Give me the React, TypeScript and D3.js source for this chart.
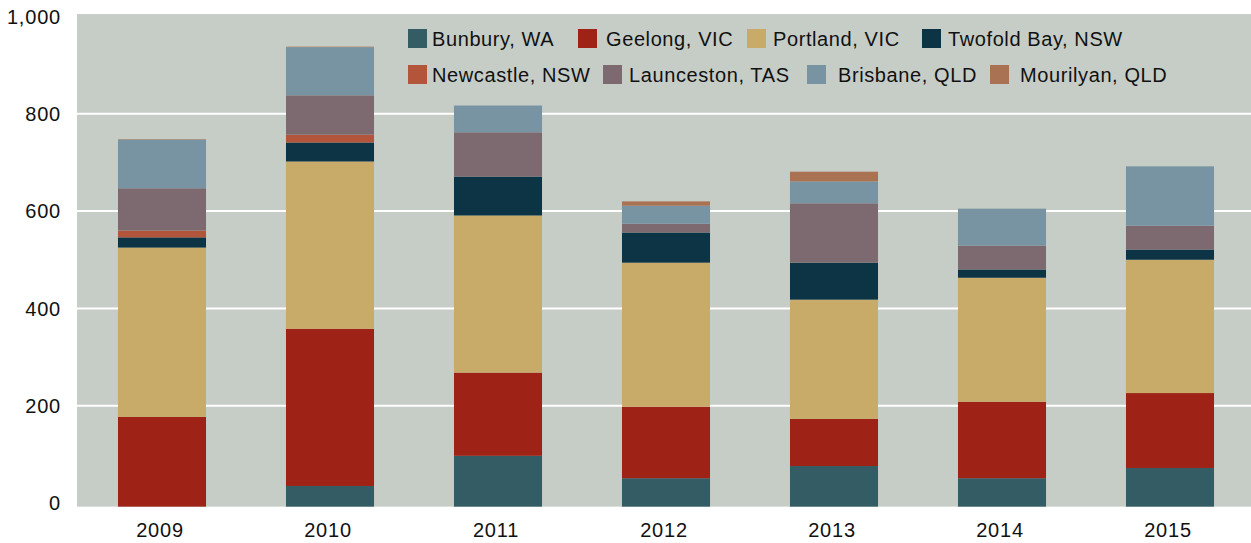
import React from "react";
import * as d3 from "d3";

const years = ["2009", "2010", "2011", "2012", "2013", "2014", "2015"];
const seriesNames = [
  "Bunbury, WA",
  "Geelong, VIC",
  "Portland, VIC",
  "Twofold Bay, NSW",
  "Newcastle, NSW",
  "Launceston, TAS",
  "Brisbane, QLD",
  "Mourilyan, QLD",
];
const bunbury = [0, 35, 97, 51, 76, 51, 72];
const geelong = [177, 323, 171, 147, 97, 157, 154];
const portland = [348, 344, 323, 296, 245, 255, 274];
const twofold = [21, 39, 80, 62, 76, 17, 21];
const newcastle = [14, 16, 0, 0, 0, 0, 0];
const launceston = [87, 81, 91, 18, 122, 49, 49];
const brisbane = [100, 99, 55, 37, 45, 76, 122];
const mourilyan = [1, 1, 0, 9, 20, 0, 0];
const yTicks = [0, 200, 400, 600, 800, 1000];

const seriesValues = [bunbury, geelong, portland, twofold, newcastle, launceston, brisbane, mourilyan];
const colors = ["#335c64", "#9e2215", "#c8ab69", "#0c3444", "#b3553a", "#7d6a70", "#7894a2", "#a97353"];

// legend layout (positions only)
const legendPos = [
  [408, 29], [578, 29], [747, 29], [922, 29],
  [408, 65], [603, 65], [807, 65], [990, 65],
];
const legendTextDx = [24, 28, 26, 26, 24, 26, 31, 30];

export default function App() {
  const W = 1251, H = 543;
  const plotLeft = 77, plotRight = 1251;
  const y = d3.scaleLinear().domain([0, 1000]).range([503, 16.5]);
  const yMin = -7.5, yMax = 1005;
  const x = d3.scaleBand().domain(years).range([78, 1254]).paddingInner(0.476).paddingOuter(0.238);

  const table = years.map((yr, i) => {
    const row: any = { year: yr };
    seriesNames.forEach((s, j) => (row[s] = seriesValues[j][i]));
    return row;
  });
  const stacked = d3.stack<any>().keys(seriesNames)(table);
  const fontFamily = "'Liberation Sans', Arial, Helvetica, sans-serif";

  return (
    <svg width={W} height={H} style={{ position: "absolute", left: 0, top: 0 }} fontFamily={fontFamily}>
      <rect x={0} y={0} width={W} height={H} fill="#ffffff" />
      <rect x={plotLeft} y={y(yMax)} width={plotRight - plotLeft} height={y(yMin) - y(yMax)} fill="#c6cdc7" />
      {yTicks.filter((t) => t > 0 && t < 1000).map((t) => (
        <line key={t} x1={plotLeft} x2={plotRight} y1={y(t)} y2={y(t)} stroke="#ffffff" strokeWidth={2} />
      ))}
      {stacked.map((layer, j) => (
        <g key={layer.key} fill={colors[j]}>
          {layer.map((d, i) => {
            const v = d[1] - d[0];
            if (v <= 0) return null;
            const bottom = d[0] === 0 ? y(yMin) : y(d[0]);
            return (
              <rect key={i} x={x(years[i])} width={x.bandwidth()} y={y(d[1])} height={bottom - y(d[1])} />
            );
          })}
        </g>
      ))}
      {yTicks.map((t) => (
        <text key={t} x={61} y={y(t)} dy="0.36em" textAnchor="end" fontSize={20} letterSpacing={0.8} fill="#111">
          {d3.format(",")(t)}
        </text>
      ))}
      {years.map((yr) => (
        <text key={yr} x={(x(yr) as number) + x.bandwidth() / 2 - 2} y={530} dy="0.36em" textAnchor="middle" fontSize={20} letterSpacing={0.8} fill="#111">
          {yr}
        </text>
      ))}
      {seriesNames.map((s, j) => (
        <g key={s} transform={`translate(${legendPos[j][0]},${legendPos[j][1]})`}>
          <rect x={0} y={0} width={19} height={19} fill={colors[j]} />
          <text x={legendTextDx[j]} y={9.5} dy="0.36em" fontSize={20} letterSpacing={0.6} fill="#111">
            {s}
          </text>
        </g>
      ))}
    </svg>
  );
}
